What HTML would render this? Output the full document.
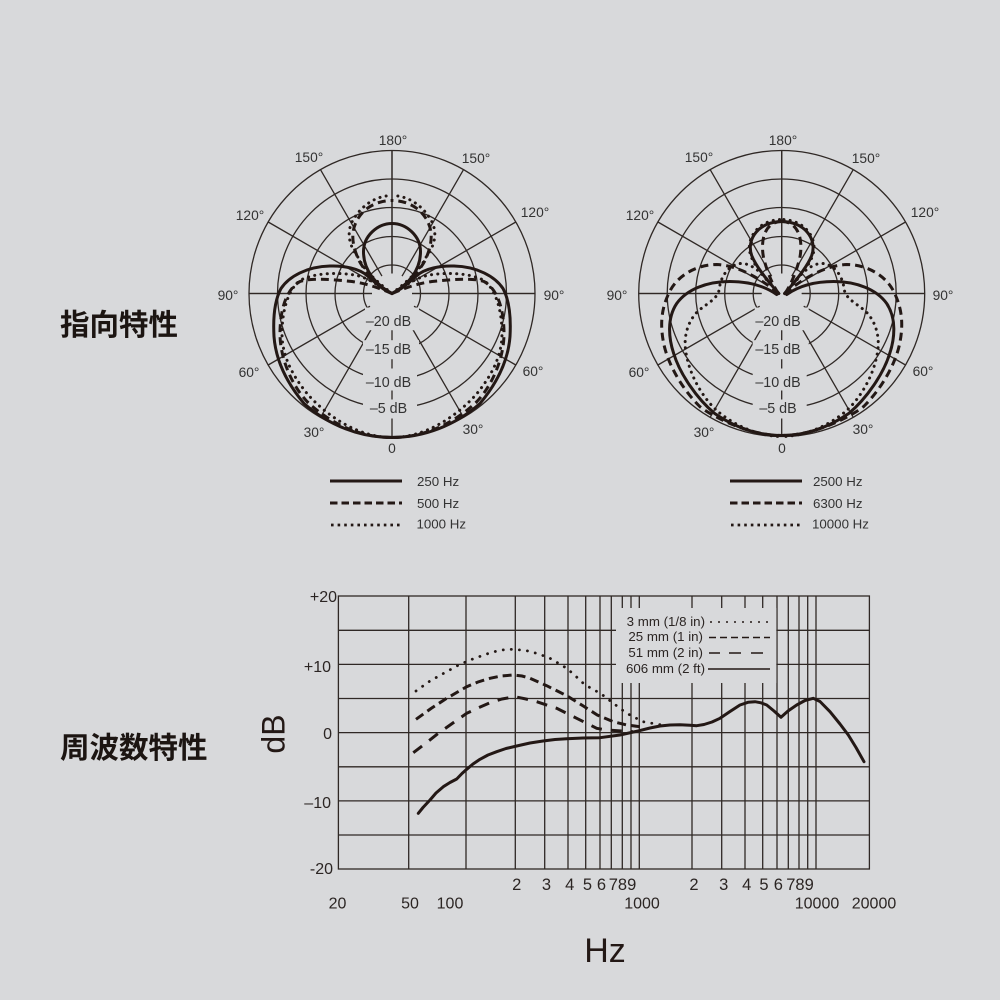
<!DOCTYPE html>
<html><head><meta charset="utf-8"><style>
html,body{margin:0;padding:0;background:#d8d9db}
svg{display:block}
text{font-family:"Liberation Sans",Arial,sans-serif;fill:#2b2523}
.t{font-size:13.8px;text-anchor:middle;fill:#333}
.r{font-size:14.3px;text-anchor:middle;fill:#333}
.a{font-size:16px;text-anchor:end}
.m{font-size:16.5px;text-anchor:middle}
.b{font-size:16px;text-anchor:middle}
.l{font-size:13.3px;text-anchor:end}
.h{font-size:13.3px;fill:#333}
.g{fill:none;stroke:#2f2825;stroke-width:1.3}
.s{fill:none;stroke:#231815;stroke-width:3;stroke-linecap:round;stroke-linejoin:round}
.d{fill:none;stroke:#231815;stroke-width:3;stroke-dasharray:8 5}
.o{fill:none;stroke:#231815;stroke-width:3;stroke-linecap:round;stroke-dasharray:0.1 6.2}
.c{font-family:"Liberation Sans","Noto Sans CJK JP",sans-serif;font-size:29.5px;font-weight:700;fill:#1c1512}
</style></head><body>
<svg width="1000" height="1000" viewBox="0 0 1000 1000" xmlns="http://www.w3.org/2000/svg">
<rect width="1000" height="1000" fill="#d8d9db"/>
<defs>
<g id="grid">
<g class="g">
<circle r="143"/><circle r="114.5"/><circle r="86"/><circle r="57"/><circle r="28.5"/>
<path d="M0,-143V-20M0,20V143M-143,0H-20M20,0H143"/>
<path d="M-71.5,-123.8L-10,-17.3M71.5,-123.8L10,-17.3M-123.8,-71.5L-20,-11.5M123.8,-71.5L20,-11.5"/>
<path d="M-123.8,71.5L-22,12.7M123.8,71.5L22,12.7M-71.5,123.8L-18,31M71.5,123.8L18,31"/>
</g>
<circle r="20" fill="#d8d9db"/>
<path d="M-143,0H-20M20,0H143" class="g"/>
<path d="M-27,14H27V36.7H-27Z" fill="#d8d9db"/>
<rect x="-29" y="46.7" width="56" height="19" fill="#d8d9db"/>
<rect x="-29" y="75" width="54" height="22" fill="#d8d9db"/>
<rect x="-29" y="106" width="54" height="19" fill="#d8d9db"/>
<path d="M0,-143V-20" class="g"/>
</g>
<g id="n1">
<path class="s" d="M0,0C10,-4 18,-12 25,-18C33,-25 48,-28 62,-27.5C85,-27 103,-17 111,-5C118,8 119,25 118,43C116,70 103,92 88,110C63,132 32,144 0,144"/>
<path class="s" d="M0,0C15,-8 28.5,-22 28.5,-42C28.5,-57 15,-70 0,-70"/>
<path class="d" d="M0,0C12,-5 25,-10 40,-12C60,-14 80,-16 92,-12C105,-5 112,15 112,40C112,65 100,92 85,108C62,130 32,144 0,144"/>
<path class="d" d="M0,0C10,-5 25,-18 33,-33C40,-48 42,-62 34,-75C26,-88 12,-93 0,-93"/>
<path class="o" d="M0,0C12,-6 22,-15 35,-18C55,-22 80,-20 92,-13C105,-3 110,20 110,40C110,65 97,85 85,100C64,124 32,144 0,144"/>
<path class="o" d="M0,0C10,-8 28,-22 33,-35C45,-50 46,-65 36,-78C26,-92 12,-98 0,-98"/>
</g>
<g id="n2">
<path class="s" d="M5,1C15,-6 30,-12 52,-12C75,-12 95,-4 105,10C115,25 113,45 108,60C102,80 85,105 67,120C48,133 25,142 0,142"/>
<path class="s" d="M3,0C10,-8 25,-25 30,-38C36,-55 22,-72 0,-72"/>
<path class="d" d="M3,0C15,-10 40,-28 65,-29C85,-29 105,-18 113,0C120,15 122,30 118,50C114,70 100,95 82,113C65,126 30,142 0,142"/>
<path class="d" d="M3,0C8,-6 14,-20 18,-35C22,-55 16,-72 0,-72"/>
<path class="o" d="M3,0C12,-12 25,-28 38,-30C50,-31 60,-20 62,-7C63,5 72,8 83,17C95,28 98,45 96,57C93,80 80,103 65,117C50,130 25,143 0,143"/>
<path class="o" d="M3,0C10,-8 26,-24 31,-38C37,-56 22,-74 0,-74"/>
</g>
</defs>

<g transform="translate(392,293.5)">
<use href="#grid"/><use href="#n1"/><use href="#n1" transform="scale(-1,1)"/>
</g>
<g transform="translate(781.7,293.5)">
<use href="#grid"/><use href="#n2"/><use href="#n2" transform="scale(-1,1)"/>
</g>

<g>
<text class="t" x="393" y="145">180°</text>
<text class="t" x="309" y="162">150°</text>
<text class="t" x="476" y="163">150°</text>
<text class="t" x="250" y="220">120°</text>
<text class="t" x="535" y="217">120°</text>
<text class="t" x="228" y="300">90°</text>
<text class="t" x="554" y="300">90°</text>
<text class="t" x="249" y="377">60°</text>
<text class="t" x="533" y="376">60°</text>
<text class="t" x="314" y="437">30°</text>
<text class="t" x="473" y="434">30°</text>
<text class="t" x="392" y="453">0</text>
<text class="r" x="388.5" y="326">–20 dB</text>
<text class="r" x="388.5" y="354">–15 dB</text>
<text class="r" x="388.5" y="387">–10 dB</text>
<text class="r" x="388.5" y="413">–5 dB</text>

<text class="t" x="783" y="145">180°</text>
<text class="t" x="699" y="162">150°</text>
<text class="t" x="866" y="163">150°</text>
<text class="t" x="640" y="220">120°</text>
<text class="t" x="925" y="217">120°</text>
<text class="t" x="617" y="300">90°</text>
<text class="t" x="943" y="300">90°</text>
<text class="t" x="639" y="377">60°</text>
<text class="t" x="923" y="376">60°</text>
<text class="t" x="704" y="437">30°</text>
<text class="t" x="863" y="434">30°</text>
<text class="t" x="782" y="453">0</text>
<text class="r" x="778" y="326">–20 dB</text>
<text class="r" x="778" y="354">–15 dB</text>
<text class="r" x="778" y="387">–10 dB</text>
<text class="r" x="778" y="413">–5 dB</text>
</g>

<path d="M330,481H402M730,481H802" fill="none" stroke="#231815" stroke-width="3"/>
<path d="M330,503H402M730,503H802" fill="none" stroke="#231815" stroke-width="3" stroke-dasharray="7.5 4"/>
<path d="M331,525H402M731,525H802" fill="none" stroke="#231815" stroke-width="2.8" stroke-dasharray="2.6 4"/>
<text class="h" x="417" y="486">250 Hz</text>
<text class="h" x="417" y="508">500 Hz</text>
<text class="h" x="416.5" y="528.5">1000 Hz</text>
<text class="h" x="813" y="486">2500 Hz</text>
<text class="h" x="813" y="508">6300 Hz</text>
<text class="h" x="812" y="528.5">10000 Hz</text>

<text class="c" x="60" y="335">指向特性</text>
<text class="c" x="60" y="758">周波数特性</text>

<g class="g">
<rect x="338.4" y="596" width="531" height="273"/>
<path d="M338,630.3H869M338,664.4H869M338,698.5H869M338,732.6H869M338,766.8H869M338,800.9H869M338,835H869"/>
<path d="M408.7,596V869M466,596V869M515.3,596V869M544.7,596V869M568,596V869M585.7,596V869M600,596V869M611.3,596V869M622.3,596V869M631,596V869M639.3,596V869M692,596V869M721.7,596V869M745,596V869M762.7,596V869M777,596V869M788.3,596V869M799,596V869M807.7,596V869M816,596V869"/>
</g>
<rect x="616" y="608" width="160.3" height="75" fill="#d8d9db"/>

<text class="l" x="705" y="626">3 mm (1/8 in)</text>
<text class="l" x="703" y="641">25 mm (1 in)</text>
<text class="l" x="703" y="657">51 mm (2 in)</text>
<text class="l" x="705" y="673">606 mm (2 ft)</text>
<path d="M710,622H770" fill="none" stroke="#231815" stroke-width="1.4" stroke-dasharray="2 6"/>
<path d="M709,637.5H770" fill="none" stroke="#231815" stroke-width="1.4" stroke-dasharray="7 4"/>
<path d="M709,653H720M729,653H741M751,653H763" fill="none" stroke="#231815" stroke-width="1.4"/>
<path d="M708,669H770" fill="none" stroke="#231815" stroke-width="1.4"/>

<path fill="none" stroke="#231815" stroke-width="2.8" stroke-linecap="round" stroke-dasharray="0.1 8" d="M416,691L430,681L446,672L460,664.3L474,658.5L486.7,654L497,651L506.7,649.3L516,649.5L526.7,650.7L539,654L550,658.3L558,663L566.7,668.3L575,675.5L583.3,683.3L592,689L600,693L613,703L626.7,713.3L643,721.7L661.7,725"/>
<path fill="none" stroke="#231815" stroke-width="3" stroke-dasharray="9 5" d="M416,719.3L431,708.5L446.7,698.3L466.7,686.7L478,682L490,678.3L501,676L513.3,675L522,676L530,678.3L546.7,685.7L566.7,695.7L583.3,706L597.3,715L613.3,721.7L626.7,725L640,726.7"/>
<path fill="none" stroke="#231815" stroke-width="3" stroke-dasharray="11 9" d="M413.3,752.7L426,743L438.3,733.3L466.7,713.3L478,708L490,702.7L502,699L515,696.7L526,699L536.7,701.7L556.7,708.3L576.7,718.3L596.7,728.3L606.7,730L633,731.7"/>
<path class="s" d="M418.3,813.3L423,807.5L430,800L436,793L443.3,786.7L450,782.5L456.7,779L462,773.5L466.7,769.3L473,764L480,759.3L488,755L496.7,751.7L506,748.5L516.7,746L530,743L543,741L555,739.5L566.7,738.7L583,738L600,737.7L620,735L639.3,730.7L650,728L660,726L670,725L680,724.7L690,725.3L696.7,725.7L704,724.5L712,722L720,718.3L730,711.5L740,705L748,702.3L755,701.7L761,702.8L766.7,705L774,711L781,717.3L788,711L796.7,705L805,700.5L813.3,698.3L820,701.5L830,711.7L840,724L848.3,735L856,747.5L864,761.7"/>

<text class="a" x="337" y="602">+20</text>
<text class="a" x="331" y="672">+10</text>
<text class="a" x="332" y="739">0</text>
<text class="a" x="331" y="808">–10</text>
<text class="a" x="333" y="874">-20</text>

<text class="m" x="516.7" y="890">2</text>
<text class="m" x="546.5" y="890">3</text>
<text class="m" x="569.7" y="890">4</text>
<text class="m" x="587.5" y="890">5</text>
<text class="m" x="601.5" y="890">6</text>
<text class="m" x="622.5" y="890">789</text>
<text class="m" x="694" y="890">2</text>
<text class="m" x="723.7" y="890">3</text>
<text class="m" x="746.7" y="890">4</text>
<text class="m" x="764" y="890">5</text>
<text class="m" x="778.3" y="890">6</text>
<text class="m" x="800" y="890">789</text>
<text class="b" x="337.5" y="908.3">20</text>
<text class="b" x="410" y="908.3">50</text>
<text class="b" x="450" y="908.3">100</text>
<text class="b" x="642" y="908.3">1000</text>
<text class="b" x="817" y="908.3">10000</text>
<text class="b" x="874" y="908.3">20000</text>

<text x="605" y="962" style="font-size:34px;text-anchor:middle;fill:#231815">Hz</text>
<text transform="translate(284.5,734) rotate(-90)" style="font-size:32px;text-anchor:middle;fill:#231815">dB</text>
</svg>
</body></html>
